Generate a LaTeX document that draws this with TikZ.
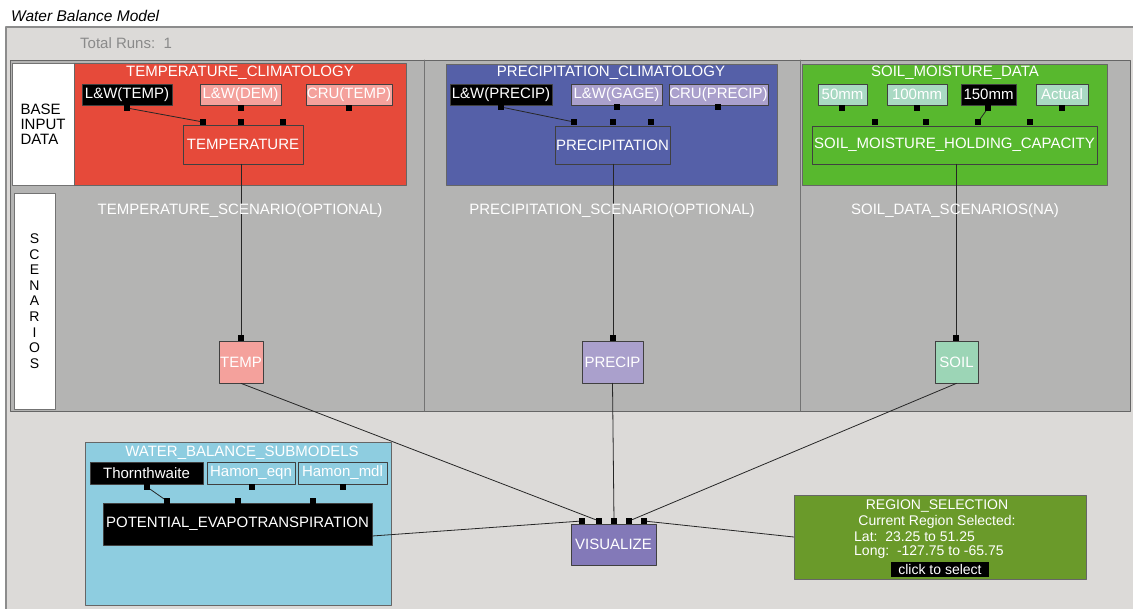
\documentclass[tikz,border=0pt]{standalone}
\usepackage{fontspec}
\setmainfont{Liberation Sans}
\definecolor{canvas}{HTML}{DCDAD8}
\definecolor{panel}{HTML}{B4B4B3}
\definecolor{tred}{HTML}{E64A3A}
\definecolor{tpink}{HTML}{F4A19C}
\definecolor{pblue}{HTML}{5560A8}
\definecolor{plilac}{HTML}{AAA0CC}
\definecolor{sgreen}{HTML}{58B82E}
\definecolor{smint}{HTML}{A9D9C3}
\definecolor{ssoil}{HTML}{9CD5B6}
\definecolor{wcyan}{HTML}{8ECDE0}
\definecolor{vpurple}{HTML}{8379B8}
\definecolor{rgreen}{HTML}{6A9A2A}
\definecolor{runs}{HTML}{8A8A8A}
\begin{document}
\begin{tikzpicture}[x=1pt,y=-1pt,line cap=round,line join=round,
  txt/.style={font=\fontsize{15}{15}\selectfont,inner sep=0pt},
  small/.style={font=\fontsize{14}{14}\selectfont,inner sep=0pt,text=white},
  cluster/.style={draw=black!60,line width=0.6pt,inner sep=0pt},
  opt/.style={txt,draw=black!75,line width=0.7pt,text=white,minimum height=21pt},
  sel/.style={opt,fill=black},
  side/.style={txt,fill=white,draw=black!55,line width=0.6pt},
  port/.style={fill=black,minimum size=6pt,inner sep=0pt},
  wire/.style={line width=0.8pt,black!85}]
\useasboundingbox (0,0) rectangle (1133,609);
\fill[canvas] (6,27) rectangle (1133,609);
\draw[black!45,line width=1.2pt] (6,609) -- (6,27) -- (1133,27);
\node[txt,anchor=west,font=\fontsize{15.5}{17}\selectfont\itshape] (title) at (11,16) {Water Balance Model};
\node[txt,anchor=west,text=runs] (runs) at (80,43) {Total Runs:\ \ 1};
% base data and scenario panel
\node[cluster,fill=panel,minimum width=1120pt,minimum height=351pt] (panel) at (570,235.5) {};
\draw[black!55,line width=0.6pt] (424,60) -- (424,411);
\draw[black!55,line width=0.6pt] (800,60) -- (800,411);
\node[side,align=left,minimum width=62pt,minimum height=122pt] (base) at (43,124) {BASE\\INPUT\\DATA};
\node[side,align=center,font=\fontsize{14}{15.6}\selectfont,minimum width=41pt,minimum height=216pt] (scen) at (34.5,301) {S\\C\\E\\N\\A\\R\\I\\O\\S};
% temperature
\node[cluster,fill=tred,minimum width=332pt,minimum height=122pt] (tclim) at (240,124) {};
\node[txt,text=white] (tclim-title) at (240,73) {TEMPERATURE\_CLIMATOLOGY};
\node[sel,minimum width=90pt] (lwtemp) at (127,94.5) {L\&W(TEMP)};
\node[opt,fill=tpink,minimum width=81pt] (lwdem) at (240.5,94.5) {L\&W(DEM)};
\node[opt,fill=tpink,minimum width=86pt] (crutemp) at (349,94.5) {CRU(TEMP)};
\node[opt,fill=tred,minimum width=120pt,minimum height=39pt] (temperature) at (243,144.5) {TEMPERATURE};
\node[port] (lwtemp-p) at (127,108) {};
\node[port] (lwdem-p) at (241,108) {};
\node[port] (crutemp-p) at (349,108) {};
\node[port] (temperature-p1) at (203,122) {};
\node[port] (temperature-p2) at (241,122) {};
\node[port] (temperature-p3) at (283,122) {};
\draw[wire] (lwtemp-p) -- (temperature-p1);
% precipitation
\node[cluster,fill=pblue,minimum width=331pt,minimum height=121pt] (pclim) at (611.5,124.5) {};
\node[txt,text=white] (pclim-title) at (611,73) {PRECIPITATION\_CLIMATOLOGY};
\node[sel,minimum width=102pt] (lwprecip) at (501,94.5) {L\&W(PRECIP)};
\node[opt,fill=plilac,minimum width=91pt] (lwgage) at (616.5,94.5) {L\&W(GAGE)};
\node[opt,fill=plilac,minimum width=99pt] (cruprecip) at (718.5,94.5) {CRU(PRECIP)};
\node[opt,fill=pblue,minimum width=115pt,minimum height=38pt] (precipitation) at (612.5,145) {PRECIPITATION};
\node[port] (lwprecip-p) at (501,107) {};
\node[port] (lwgage-p) at (617,107) {};
\node[port] (cruprecip-p) at (718,107) {};
\node[port] (precipitation-p1) at (574,122) {};
\node[port] (precipitation-p2) at (613,122) {};
\node[port] (precipitation-p3) at (651,122) {};
\draw[wire] (lwprecip-p) -- (precipitation-p1);
% soil moisture
\node[cluster,fill=sgreen,minimum width=305pt,minimum height=121pt] (soil) at (954.5,124.5) {};
\node[txt,text=white] (soil-title) at (955,73) {SOIL\_MOISTURE\_DATA};
\node[opt,fill=smint,minimum width=49pt] (mm50) at (842.5,94.5) {50mm};
\node[opt,fill=smint,minimum width=60pt] (mm100) at (917,94.5) {100mm};
\node[sel,minimum width=55pt] (mm150) at (988.5,94.5) {150mm};
\node[opt,fill=smint,minimum width=52pt] (actual) at (1062,94.5) {Actual};
\node[opt,fill=sgreen,minimum width=285pt,minimum height=38pt] (smhc) at (954.5,145) {SOIL\_MOISTURE\_HOLDING\_CAPACITY};
\node[port] (mm50-p) at (842,108) {};
\node[port] (mm100-p) at (917,108) {};
\node[port] (mm150-p) at (988,108) {};
\node[port] (actual-p) at (1062,108) {};
\node[port] (smhc-p1) at (875,122) {};
\node[port] (smhc-p2) at (926,122) {};
\node[port] (smhc-p3) at (978,122) {};
\node[port] (smhc-p4) at (1030,122) {};
\draw[wire] (mm150-p) -- (smhc-p3);
% scenarios
\node[port] (tsc-p) at (241,338) {};
\node[port] (psc-p) at (613,338) {};
\node[port] (ssc-p) at (956,338) {};
\draw[wire] (temperature.south -| tsc-p) -- (tsc-p);
\draw[wire] (precipitation.south -| psc-p) -- (psc-p);
\draw[wire] (smhc.south -| ssc-p) -- (ssc-p);
\node[txt,text=white] (tsc-title) at (240,211) {TEMPERATURE\_SCENARIO(OPTIONAL)};
\node[txt,text=white] (psc-title) at (612,211) {PRECIPITATION\_SCENARIO(OPTIONAL)};
\node[txt,text=white] (ssc-title) at (955,211) {SOIL\_DATA\_SCENARIOS(NA)};
\node[opt,fill=tpink,minimum width=44pt,minimum height=42pt] (tsc) at (241,362) {TEMP};
\node[opt,fill=plilac,minimum width=61pt,minimum height=42pt] (psc) at (612.5,362) {PRECIP};
\node[opt,fill=ssoil,minimum width=43pt,minimum height=42pt] (ssc) at (956.5,362) {SOIL};
% submodels
\node[cluster,fill=wcyan,minimum width=306pt,minimum height=163pt] (wbs) at (238,523.5) {};
\node[txt,text=white] (wbs-title) at (242,453) {WATER\_BALANCE\_SUBMODELS};
\node[sel,minimum width=113pt,minimum height=22pt] (thorn) at (146.5,473) {Thornthwaite};
\node[opt,fill=wcyan,minimum width=88pt,minimum height=22pt] (hamoneqn) at (251,473) {Hamon\_eqn};
\node[opt,fill=wcyan,minimum width=89pt,minimum height=22pt] (hamonmdl) at (342.5,473) {Hamon\_mdl};
\node[sel,minimum width=269pt,minimum height=42pt] (pet) at (237.5,524) {POTENTIAL\_EVAPOTRANSPIRATION};
\node[port] (thorn-p) at (147,487) {};
\node[port] (hamoneqn-p) at (252,487) {};
\node[port] (hamonmdl-p) at (343,487) {};
\node[port] (pet-p1) at (167,501) {};
\node[port] (pet-p2) at (238,501) {};
\node[port] (pet-p3) at (313,501) {};
\draw[wire] (thorn-p) -- (pet-p1);
% visualize and region
\node[opt,fill=vpurple,minimum width=85pt,minimum height=41pt] (vis) at (613.5,544.5) {VISUALIZE};
\node[port] (vis-p1) at (582,521) {};
\node[port] (vis-p2) at (599,521) {};
\node[port] (vis-p3) at (614,521) {};
\node[port] (vis-p4) at (629,521) {};
\node[port] (vis-p5) at (644,521) {};
\node[cluster,fill=rgreen,minimum width=292pt,minimum height=84pt] (region) at (940,537) {};
\node[small] (region-title) at (937,506) {REGION\_SELECTION};
\node[small] (region-now) at (937,522) {Current Region Selected:};
\node[small,anchor=west] (region-lat) at (854,537) {Lat:\ \ 23.25 to 51.25};
\node[small,anchor=west] (region-long) at (854,552) {Long:\ \ -127.75 to -65.75};
\node[small,fill=black,minimum width=98pt,minimum height=15pt] (region-click) at (940,569) {click to select};
\draw[wire] (tsc.south) -- (vis-p2);
\draw[wire] (psc.south) -- (vis-p3);
\draw[wire] (ssc.south) -- (vis-p4);
\draw[wire] ([yshift=-12pt]pet.east) -- (vis-p1);
\draw[wire] (region.west) -- (vis-p5);
\end{tikzpicture}
\end{document}
